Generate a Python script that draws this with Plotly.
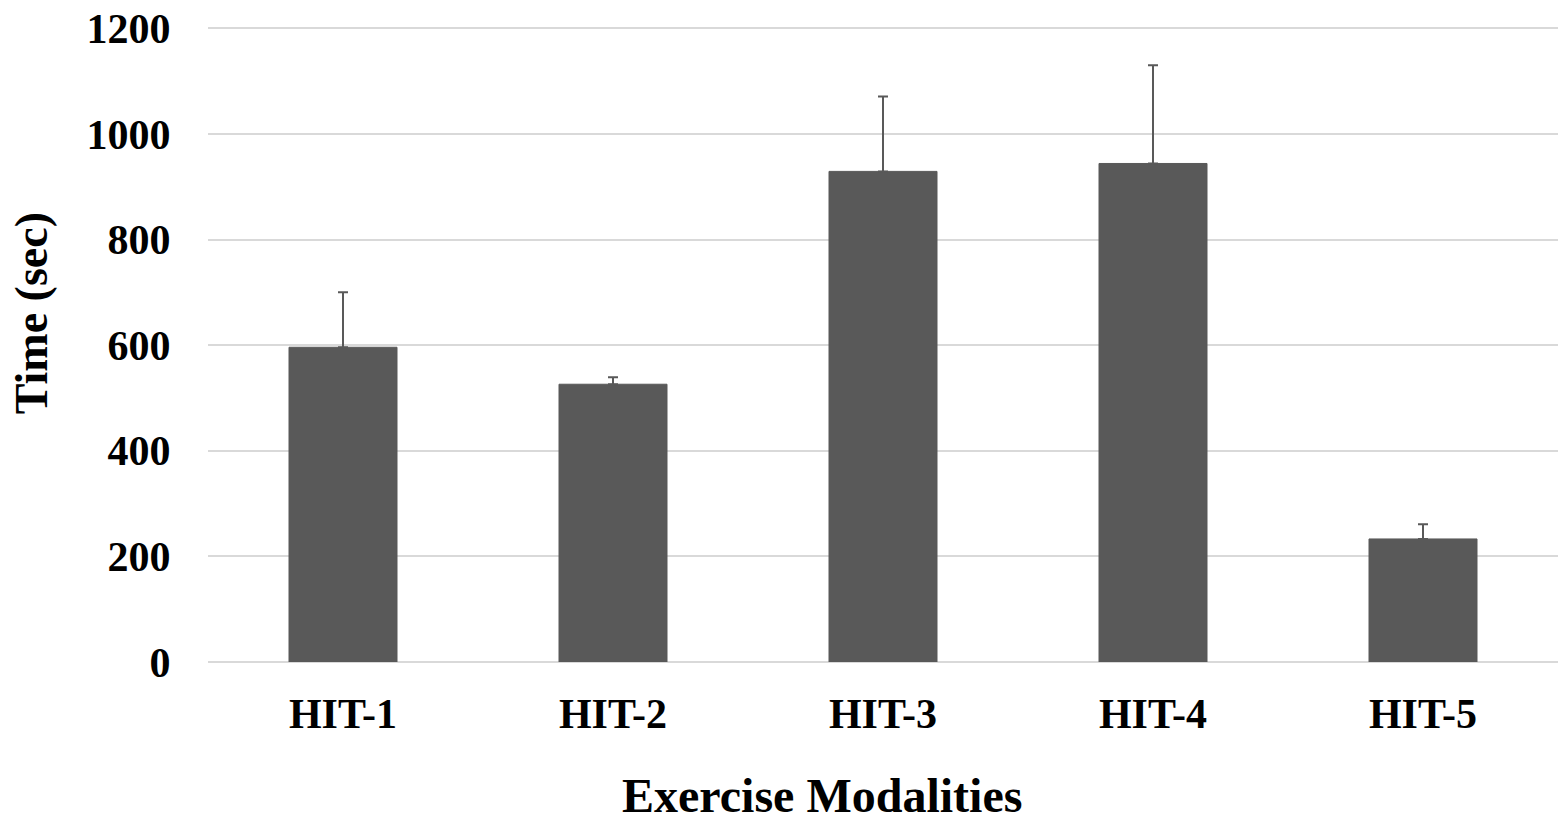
import plotly.graph_objects as go

categories = ["HIT-1", "HIT-2", "HIT-3", "HIT-4", "HIT-5"]
means = [596, 526, 929, 944, 233]
sd_plus = [104, 13, 142, 186, 28]
y_ticks = [0, 200, 400, 600, 800, 1000, 1200]
x_title = "Exercise Modalities"
y_title = "Time (sec)"

FONT = "Liberation Serif"

fig = go.Figure()
fig.add_trace(go.Bar(
    x=categories, y=means,
    marker=dict(color="#595959", line=dict(color="#595959", width=1)),
    width=0.4,
    error_y=dict(type="data", symmetric=False, array=sd_plus, arrayminus=[0]*5,
                 color="#595959", thickness=2, width=5, visible=True),
))

fig.update_layout(
    width=1558, height=824,
    margin=dict(l=208, r=0, t=23, b=162),
    plot_bgcolor="white", paper_bgcolor="white",
    showlegend=False,
    font=dict(family=FONT, color="black"),
    bargap=0.6,
)
fig.update_xaxes(
    automargin=False,
    showgrid=False, showline=False, zeroline=False,
    tickfont=dict(family=FONT, size=42, color="black", weight="bold"),
    ticks="outside", ticklen=0, ticklabelstandoff=15,
)
fig.update_yaxes(
    automargin=False,
    range=[0, 1210], tickvals=y_ticks,
    showgrid=True, gridcolor="#d9d9d9", gridwidth=1.5,
    zeroline=True, zerolinecolor="#d9d9d9", zerolinewidth=1.5,
    showline=False,
    tickfont=dict(family=FONT, size=42, color="black", weight="bold"),
    ticks="outside", ticklen=0, ticklabelstandoff=28,
)
fig.add_annotation(text=f"<b>{x_title}</b>", xref="paper", yref="paper",
                   x=0.4548, y=-0.2097, xanchor="center", yanchor="middle",
                   showarrow=False, font=dict(family=FONT, size=48, color="black"))
fig.add_annotation(text=f"<b>{y_title}</b>", xref="paper", yref="paper",
                   x=-0.131, y=0.546, xanchor="center", yanchor="middle", textangle=-90,
                   showarrow=False, font=dict(family=FONT, size=46, color="black"))

fig.write_html("out.html", config={"displayModeBar": False},
               post_script="document.body.style.margin='0';document.body.style.overflow='hidden';")
